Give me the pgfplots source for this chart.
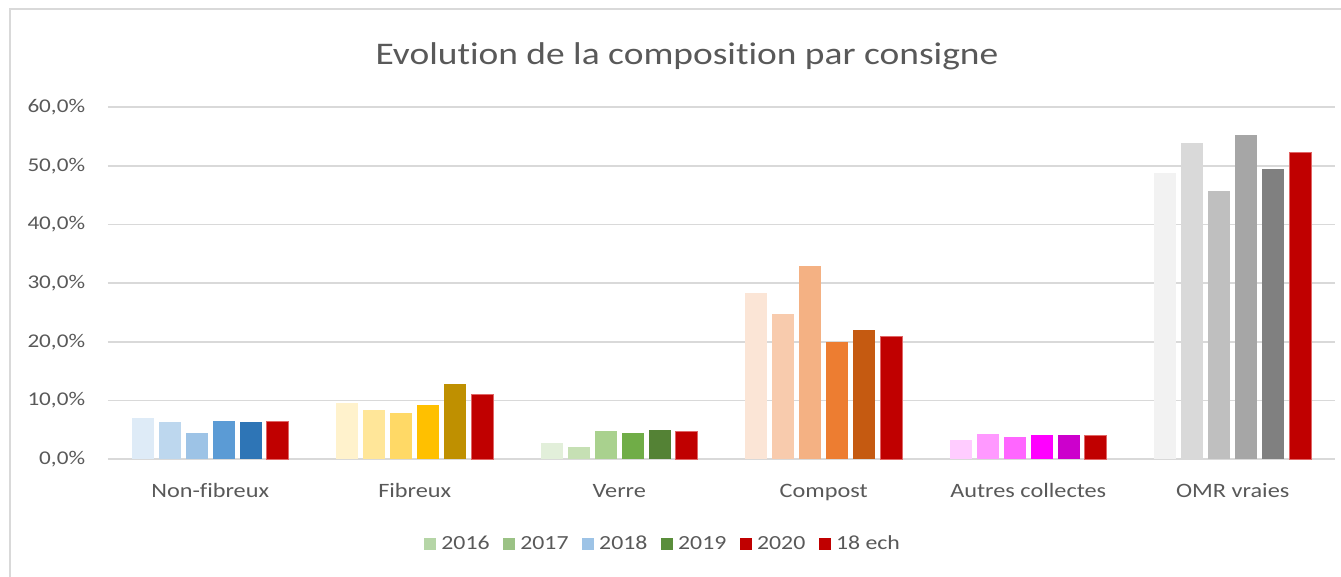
\documentclass[border=0pt]{standalone}
\usepackage{pgfplots}
\pgfplotsset{compat=1.18}
\usepackage{fontspec}
\setmainfont{Carlito}[FakeStretch=1.19, Ligatures={NoCommon}]
\definecolor{txt}{HTML}{595959}
\definecolor{grd}{HTML}{D9D9D9}
% Non-fibreux
\definecolor{a1}{HTML}{DEEBF7}\definecolor{a2}{HTML}{BDD7EE}\definecolor{a3}{HTML}{9DC3E6}
\definecolor{a4}{HTML}{5B9BD5}\definecolor{a5}{HTML}{2E75B6}
% Fibreux
\definecolor{b1}{HTML}{FFF2CC}\definecolor{b2}{HTML}{FFE699}\definecolor{b3}{HTML}{FFD966}
\definecolor{b4}{HTML}{FFC000}\definecolor{b5}{HTML}{BF9000}
% Verre
\definecolor{c1}{HTML}{E2EFDA}\definecolor{c2}{HTML}{C6E0B4}\definecolor{c3}{HTML}{A9D18E}
\definecolor{c4}{HTML}{70AD47}\definecolor{c5}{HTML}{548235}
% Compost
\definecolor{d1}{HTML}{FBE5D6}\definecolor{d2}{HTML}{F8CBAD}\definecolor{d3}{HTML}{F4B183}
\definecolor{d4}{HTML}{ED7D31}\definecolor{d5}{HTML}{C55A11}
% Autres collectes
\definecolor{e1}{HTML}{FFCCFF}\definecolor{e2}{HTML}{FF99FF}\definecolor{e3}{HTML}{FF66FF}
\definecolor{e4}{HTML}{FF00FF}\definecolor{e5}{HTML}{CC00CC}
% OMR vraies
\definecolor{f1}{HTML}{F2F2F2}\definecolor{f2}{HTML}{D9D9D9}\definecolor{f3}{HTML}{BFBFBF}
\definecolor{f4}{HTML}{A6A6A6}\definecolor{f5}{HTML}{808080}
\definecolor{red18}{HTML}{C00000}
\definecolor{redb}{HTML}{E06666}
% legend
\definecolor{l16}{HTML}{B5D5A6}\definecolor{l17}{HTML}{9BC285}\definecolor{l18}{HTML}{9DC3E6}
\definecolor{l19}{HTML}{5A8E3B}
\pgfplotsset{
  s1/.style={ybar, bar width=0.1076, bar shift=-0.330, draw=none, forget plot},
  s2/.style={ybar, bar width=0.1076, bar shift=-0.198, draw=none, forget plot},
  s3/.style={ybar, bar width=0.1076, bar shift=-0.066, draw=none, forget plot},
  s4/.style={ybar, bar width=0.1076, bar shift=0.066, draw=none, forget plot},
  s5/.style={ybar, bar width=0.1076, bar shift=0.198, draw=none, forget plot},
  s6/.style={ybar, bar width=0.1076, bar shift=0.330, fill=red18, draw=redb, line width=0.5pt, forget plot},
}
\begin{document}
\begin{tikzpicture}
\path[use as bounding box] (0,0) rectangle (1005.75pt,432.75pt);
\draw[grd, line width=1.5pt] (7.5pt,0pt) -- (7.5pt,426pt) -- (1005.75pt,426pt);
\node[anchor=base, text=txt, font=\fontsize{23.6}{28}\selectfont, inner sep=0pt] at (515.25pt,384pt) {Evolution de la composition par consigne};
\begin{axis}[
  at={(81pt,88.3pt)}, anchor=south west,
  scale only axis, width=920.25pt, height=264pt,
  xmin=-0.5, xmax=5.5, ymin=0, ymax=60,
  axis line style={draw=none},
  tick style={draw=none},
  ytick={0,10,...,60},
  ymajorgrids, grid style={grd, line width=1.2pt},
  xtick={0,1,2,3,4,5},
  xticklabels={Non-fibreux, Fibreux, Verre, Compost, Autres collectes, OMR vraies},
  /pgf/number format/assume math mode=true,
  yticklabel={\pgfmathprintnumber[fixed, fixed zerofill, precision=1, use comma]{\tick}\%},
  yticklabel style={anchor=east, inner sep=0pt, xshift=-17pt, text=txt, font=\fontsize{14.6}{17}\selectfont},
  xticklabel style={anchor=base, inner sep=0pt, yshift=-29pt, text=txt, font=\fontsize{15.3}{18}\selectfont},
  legend image code/.code={\fill[#1, draw=none] (0pt,-4.7pt) rectangle (9pt,4.7pt);},
  legend columns=6,
  legend style={draw=none, fill=none, at={(0.4515,-0.2406)}, anchor=center,
    font=\fontsize{15}{18}\selectfont, text=txt,
    nodes={inner sep=0pt},
    /tikz/every odd column/.style={column sep=4pt},
    /tikz/every even column/.style={column sep=10pt}},
]
% Non-fibreux
\addplot[s1, fill=a1] coordinates {(0,7.0)};
\addplot[s2, fill=a2] coordinates {(0,6.4)};
\addplot[s3, fill=a3] coordinates {(0,4.5)};
\addplot[s4, fill=a4] coordinates {(0,6.5)};
\addplot[s5, fill=a5] coordinates {(0,6.4)};
\addplot[s6] coordinates {(0,6.5)};
% Fibreux
\addplot[s1, fill=b1] coordinates {(1,9.6)};
\addplot[s2, fill=b2] coordinates {(1,8.4)};
\addplot[s3, fill=b3] coordinates {(1,7.9)};
\addplot[s4, fill=b4] coordinates {(1,9.3)};
\addplot[s5, fill=b5] coordinates {(1,12.8)};
\addplot[s6] coordinates {(1,11.0)};
% Verre
\addplot[s1, fill=c1] coordinates {(2,2.8)};
\addplot[s2, fill=c2] coordinates {(2,2.1)};
\addplot[s3, fill=c3] coordinates {(2,4.8)};
\addplot[s4, fill=c4] coordinates {(2,4.5)};
\addplot[s5, fill=c5] coordinates {(2,5.0)};
\addplot[s6] coordinates {(2,4.7)};
% Compost
\addplot[s1, fill=d1] coordinates {(3,28.4)};
\addplot[s2, fill=d2] coordinates {(3,24.8)};
\addplot[s3, fill=d3] coordinates {(3,32.9)};
\addplot[s4, fill=d4] coordinates {(3,20.0)};
\addplot[s5, fill=d5] coordinates {(3,22.0)};
\addplot[s6] coordinates {(3,21.0)};
% Autres collectes
\addplot[s1, fill=e1] coordinates {(4,3.3)};
\addplot[s2, fill=e2] coordinates {(4,4.3)};
\addplot[s3, fill=e3] coordinates {(4,3.8)};
\addplot[s4, fill=e4] coordinates {(4,4.1)};
\addplot[s5, fill=e5] coordinates {(4,4.1)};
\addplot[s6] coordinates {(4,4.0)};
% OMR vraies
\addplot[s1, fill=f1] coordinates {(5,48.8)};
\addplot[s2, fill=f2] coordinates {(5,53.9)};
\addplot[s3, fill=f3] coordinates {(5,45.7)};
\addplot[s4, fill=f4] coordinates {(5,55.2)};
\addplot[s5, fill=f5] coordinates {(5,49.4)};
\addplot[s6] coordinates {(5,52.3)};
% legend
\addlegendimage{fill=l16}\addlegendentry{2016}
\addlegendimage{fill=l17}\addlegendentry{2017}
\addlegendimage{fill=l18}\addlegendentry{2018}
\addlegendimage{fill=l19}\addlegendentry{2019}
\addlegendimage{fill=red18}\addlegendentry{2020}
\addlegendimage{fill=red18}\addlegendentry{18 ech}
\end{axis}
\end{tikzpicture}
\end{document}
